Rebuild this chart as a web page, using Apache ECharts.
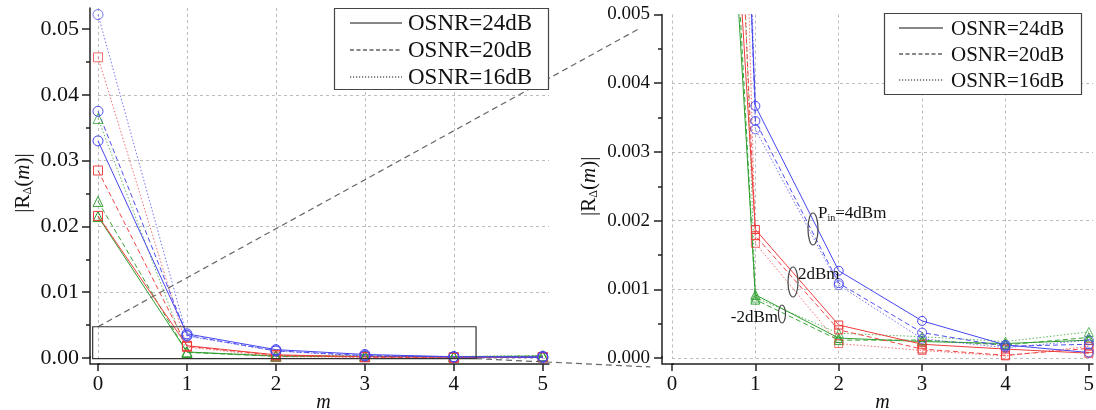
<!DOCTYPE html>
<html><head><meta charset="utf-8">
<script src="https://cdn.jsdelivr.net/npm/echarts@6/dist/echarts.min.js"></script>
<style>html,body{margin:0;padding:0;background:#fff}#c{width:1096px;height:410px}</style>
</head><body><div id="c"></div>
<script>
// ---------- data ----------
const mValues = [0, 1, 2, 3, 4, 5];
// Pin = 4 dBm (blue)
const p4_osnr24 = [0.0330, 0.00367, 0.00127, 0.00054, 0.00019, 0.00008];
const p4_osnr20 = [0.0375, 0.00345, 0.00109, 0.00037, 0.00017, 0.00020];
const p4_osnr16 = [0.0522, 0.00333, 0.00106, 0.00028, 0.00015, 0.00026];
// Pin = 2 dBm (red)
const p2_osnr24 = [0.0216, 0.00187, 0.00048, 0.00020, 0.00013, 0.00007];
const p2_osnr20 = [0.0285, 0.00178, 0.00041, 0.00013, 0.00004, 0.00014];
const p2_osnr16 = [0.0457, 0.00167, 0.00021, 0.00011, 0.00003, 0.00017];
// Pin = -2 dBm (green)
const m2_osnr24 = [0.0215, 0.00092, 0.00029, 0.00024, 0.00021, 0.00026];
const m2_osnr20 = [0.0238, 0.00085, 0.00026, 0.00026, 0.00019, 0.00030];
const m2_osnr16 = [0.0364, 0.00088, 0.00036, 0.00031, 0.00024, 0.00038];

const legendNames = ['OSNR=24dB', 'OSNR=20dB', 'OSNR=16dB'];
const xTicks = [0, 1, 2, 3, 4, 5];
const leftYTicks = [0, 0.01, 0.02, 0.03, 0.04, 0.05];
const leftYMinor = [0.005, 0.015, 0.025, 0.035, 0.045];
const rightYTicks = [0, 0.001, 0.002, 0.003, 0.004, 0.005];
const rightYMinor = [0.0005, 0.0015, 0.0025, 0.0035, 0.0045];
const annoTexts = ['P_in=4dBm', '2dBm', '-2dBm'];

// ---------- styles ----------
const FONT = 'Liberation Serif';
const BLUE = '#4646f0', RED = '#f03c3c', GREEN = '#2f9f2f';
const dashType = {s: 'solid', d: [5, 3], o: [1.5, 2]};
const dashOpacity = {s: 1, d: 0.95, o: 0.75};

// drawing order: green first (bottom), then red, then blue
const groups = [
  {color: GREEN, symbol: 'triangle', size: 10, lines: [['s', m2_osnr24], ['d', m2_osnr20], ['o', m2_osnr16]]},
  {color: RED, symbol: 'rect', size: 9, lines: [['s', p2_osnr24], ['d', p2_osnr20], ['o', p2_osnr16]]},
  {color: BLUE, symbol: 'circle', size: 10, lines: [['s', p4_osnr24], ['d', p4_osnr20], ['o', p4_osnr16]]}
];

const series = [];
[0, 1].forEach(gi => {
  groups.forEach((g, k) => {
    g.lines.forEach(([t, vals]) => {
      series.push({
        type: 'line', xAxisIndex: gi, yAxisIndex: gi === 0 ? 0 : 2,
        data: mValues.map((m, i) => [m, vals[i]]),
        symbol: g.symbol, symbolSize: gi === 0 ? g.size : g.size - 1,
        itemStyle: {color: 'rgba(255,255,255,0)', borderColor: g.color, borderWidth: 1, opacity: dashOpacity[t]},
        lineStyle: {color: g.color, width: 1, type: dashType[t], opacity: dashOpacity[t]},
        clip: true, z: 3, zlevel: 0, silent: true, animation: false
      });
    });
  });
});

const axisLine = {show: true, onZero: false, lineStyle: {color: '#222', width: 1.5}};
const gridLine = {show: true, showMaxLine: false, lineStyle: {color: '#bdbdbd', type: [3, 3], width: 1}};
const lblStyle = (size) => ({color: '#111', fontFamily: FONT, fontSize: size});

function xAxis(gi, max, offset) {
  return {
    type: 'value', gridIndex: gi, min: 0, max: max, interval: 1, offset: offset, position: 'bottom',
    axisLine: axisLine,
    axisTick: {show: true, customValues: xTicks, length: 7, inside: false, lineStyle: {color: '#222', width: 1.5}},
    axisLabel: Object.assign({customValues: xTicks, margin: 10}, lblStyle(21)),
    splitLine: gridLine,
    name: 'm', nameLocation: 'middle', nameGap: 29, nameMoveOverlap: false,
    nameTextStyle: {fontFamily: FONT, fontStyle: 'italic', fontSize: 20, color: '#111'}
  };
}
function yName() {
  return '{n|\u007cR}{s|\u0394}{n|(}{i|m}{n|)\u007c}';
}
const yRich = {
  n: {fontFamily: FONT, fontSize: 21, color: '#111'},
  i: {fontFamily: FONT, fontSize: 21, fontStyle: 'italic', color: '#111'},
  s: {fontFamily: FONT, fontSize: 12, color: '#111', padding: [10, 0, 0, 0]}
};
function yAxisMain(gi, max, interval, ticks, dec, offset, gap, fs, margin) {
  return {
    type: 'value', gridIndex: gi, min: 0, max: max, interval: interval, offset: offset, position: 'left',
    axisLine: axisLine,
    axisTick: {show: true, customValues: ticks, length: 8, lineStyle: {color: '#222', width: 1.5}},
    axisLabel: Object.assign({customValues: ticks, margin: margin,
      formatter: v => Number(v).toFixed(dec)}, lblStyle(fs)),
    splitLine: gridLine,
    name: yName(), nameLocation: 'middle', nameGap: gap, nameMoveOverlap: false,
    nameTextStyle: {rich: yRich}
  };
}
function yAxisMinor(gi, max, interval, minor, offset) {
  return {
    type: 'value', gridIndex: gi, min: 0, max: max, interval: interval, offset: offset, position: 'left',
    axisLine: {show: false, onZero: false},
    axisTick: {show: true, customValues: minor, length: 4, lineStyle: {color: '#222', width: 1.5}},
    axisLabel: {show: false}, splitLine: {show: false}
  };
}

const chart = echarts.init(document.getElementById('c'), null, {renderer: 'canvas'});
const option = {
  animation: false,
  backgroundColor: '#fff',
  grid: [
    {left: 98, right: 547, top: 8, bottom: 52, containLabel: false, outerBoundsMode: 'none'},
    {left: 672, right: 3, top: 14.5, bottom: 52, containLabel: false, outerBoundsMode: 'none'}
  ],
  xAxis: [xAxis(0, 5.07, 6), xAxis(1, 5.05, 6)],
  yAxis: [
    yAxisMain(0, 0.0532, 0.01, leftYTicks, 2, 8, 56, 22, 11),
    yAxisMinor(0, 0.0532, 0.01, leftYMinor, 8),
    yAxisMain(1, 0.005, 0.001, rightYTicks, 3, 10, 62, 19, 12),
    yAxisMinor(1, 0.005, 0.001, rightYMinor, 10)
  ],
  series: series
};
chart.setOption(option);

// ---------- decorations (legends, zoom box, connectors, axis corners, annotations) ----------
const P = (g, v) => chart.convertToPixel({gridIndex: g}, v);
const boxTL = P(0, [-0.06, 0.00475]);
const boxBR = P(0, [4.25, -0.0001]);
const conUp = P(1, [-0.40, 0.00479]);
const conLo = P(1, [-0.26, -0.00013]);
const o0 = P(0, [0, 0]);
const o1 = P(1, [0, 0]);
const boxStart = P(0, [0, 0.00475]);

const gfx = [
  {type: 'rect', shape: {x: boxTL[0], y: boxTL[1], width: boxBR[0] - boxTL[0], height: boxBR[1] - boxTL[1]},
    style: {fill: 'none', stroke: '#333', lineWidth: 1.2}, z: 5},
  {type: 'line', shape: {x1: boxStart[0], y1: boxStart[1], x2: conUp[0], y2: conUp[1]},
    style: {stroke: '#666', lineWidth: 1.2, lineDash: [6, 4]}, z: 4},
  {type: 'line', shape: {x1: boxBR[0], y1: boxBR[1], x2: conLo[0], y2: conLo[1]},
    style: {stroke: '#666', lineWidth: 1.2, lineDash: [6, 4]}, z: 4},
  // axis corners (axes are offset from the data origin)
  {type: 'polyline', shape: {points: [[o0[0] - 8, o0[1] - 2], [o0[0] - 8, o0[1] + 6], [o0[0] + 2, o0[1] + 6]]},
    style: {fill: 'none', stroke: '#222', lineWidth: 1.5}, z: 6},
  {type: 'polyline', shape: {points: [[o1[0] - 10, o1[1] - 2], [o1[0] - 10, o1[1] + 6], [o1[0] + 2, o1[1] + 6]]},
    style: {fill: 'none', stroke: '#222', lineWidth: 1.5}, z: 6},
  // annotations
  {type: 'ellipse', shape: {cx: 813, cy: 229, rx: 5, ry: 16}, style: {fill: 'none', stroke: '#444', lineWidth: 1.2}, z: 7},
  {type: 'ellipse', shape: {cx: 793, cy: 282, rx: 5, ry: 15}, style: {fill: 'none', stroke: '#444', lineWidth: 1.2}, z: 7},
  {type: 'ellipse', shape: {cx: 782, cy: 314, rx: 3.5, ry: 9}, style: {fill: 'none', stroke: '#444', lineWidth: 1.2}, z: 7},
  {type: 'text', x: 818, y: 214, style: {text: '{a|P}{b|in}{a|=4dBm}', verticalAlign: 'middle',
    rich: {a: {fontFamily: FONT, fontSize: 17, fill: '#111'}, b: {fontFamily: FONT, fontSize: 10, fill: '#111', padding: [9, 0, 0, 0]}}}, z: 8},
  {type: 'text', x: 798, y: 275, style: {text: annoTexts[1], fontFamily: FONT, fontSize: 17, fill: '#111', verticalAlign: 'middle'}, z: 8},
  {type: 'text', x: 778, y: 318, style: {text: annoTexts[2], fontFamily: FONT, fontSize: 17, fill: '#111', verticalAlign: 'middle', align: 'right'}, z: 8}
];

// legends drawn as graphic boxes
const legendDash = [null, [4, 2.5], [1.2, 1.8]];
function legendBox(x0, y0, w, h, rows, lx1, lx2, tx, fs) {
  gfx.push({type: 'rect', shape: {x: x0, y: y0, width: w, height: h},
    style: {fill: '#fff', stroke: '#444', lineWidth: 1.2}, z: 20});
  legendNames.forEach((n, i) => {
    gfx.push({type: 'line', shape: {x1: lx1, y1: rows[i], x2: lx2, y2: rows[i]},
      style: {stroke: '#111', lineWidth: 1, lineDash: legendDash[i]}, z: 21});
    gfx.push({type: 'text', x: tx, y: rows[i] + 1,
      style: {text: n, fontFamily: FONT, fontSize: fs, fill: '#111', verticalAlign: 'middle'}, z: 21});
  });
}
legendBox(334.5, 8.5, 214, 81, [23, 50, 77], 350, 402, 408, 23);
legendBox(884.5, 13.5, 197, 81, [28, 54, 80], 899, 943, 951, 21);

chart.setOption({graphic: gfx});
</script></body></html>
